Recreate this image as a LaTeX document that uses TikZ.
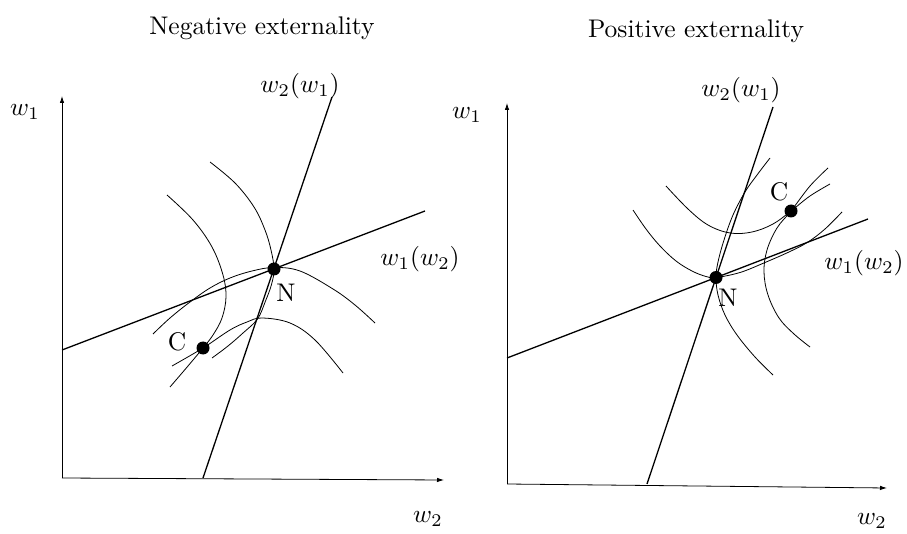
\documentclass[tikz,border=0pt]{standalone}
\usetikzlibrary{arrows.meta}
\newcommand{\mylab}[1]{\scalebox{2.55}{#1}}
\begin{document}
\begin{tikzpicture}[x=1pt,y=-1pt,
  axis/.style={line width=0.8pt,-{Latex[length=7pt,width=4.5pt]}},
  react/.style={line width=1.3pt},
  indiff/.style={line width=0.8pt,smooth,tension=0.6},
  dot/.style={circle,fill=black,inner sep=0pt,minimum size=13pt},
  lab/.style={font=\fontsize{10}{12}\selectfont,inner sep=0pt},
]
\useasboundingbox (0,0) rectangle (907,534);

% ---------------- Left panel: negative externality ----------------
\coordinate (OL) at (62,478);
\coordinate (YL) at (62,96);
\coordinate (XL) at (444,480);
\draw[axis] (OL) -- (YL);
\draw[axis] (OL) -- (XL);

\coordinate (AL1) at (62,350);
\coordinate (AL2) at (425,211);
\coordinate (BL1) at (203,478);
\coordinate (BL2) at (332,97);
\draw[react] (AL1) -- (AL2);
\draw[react] (BL1) -- (BL2);

% indifference curves
\draw[indiff] plot coordinates {(153,334) (170,318) (190,302) (210,288) (230,278) (252,271) (274,267.5) (300,271) (333,289) (355,305) (375,323)};
\draw[indiff] plot coordinates {(172,366) (203,348) (230,330) (247,322) (262,318) (290,323) (315,340) (343,373)};
\draw[indiff] plot coordinates {(210,162) (235,183) (254,207) (265,230) (271,250) (274,269) (271.5,284.5) (265.5,301) (257.5,319) (243,333) (228,346) (212,358)};
\draw[indiff] plot coordinates {(167,195) (193,220) (212,247) (223,275) (226,297) (222,318) (213,335) (203,348) (188,366) (170,387)};

\node[dot] (NL) at (274,269) {};
\node[dot] (CL) at (203,348) {};

\node[lab] (tL) at (262,28) {\mylab{Negative externality}};
\node[lab] (w1L) at (25,112) {\mylab{$w_1$}};
\node[lab] (w2L) at (428,519) {\mylab{$w_2$}};
\node[lab] (r2L) at (300,86) {\mylab{$w_2(w_1)$}};
\node[lab] (r1L) at (420,259) {\mylab{$w_1(w_2)$}};
\node[lab] (nL) at (286,293) {\mylab{N}};
\node[lab] (cL) at (177,342) {\mylab{C}};

% ---------------- Right panel: positive externality ----------------
\coordinate (OR) at (507,484);
\coordinate (YR) at (507,103);
\coordinate (XR) at (887,488);
\draw[axis] (OR) -- (YR);
\draw[axis] (OR) -- (XR);

\coordinate (AR1) at (507,358);
\coordinate (AR2) at (868,219);
\coordinate (BR1) at (647,484);
\coordinate (BR2) at (773,107);
\draw[react] (AR1) -- (AR2);
\draw[react] (BR1) -- (BR2);

\draw[indiff] plot coordinates {(770,158) (757,175) (745,192) (733,215) (724,240) (718,262) (716,277.5) (718,295) (725,315) (737,335) (755,357) (773,375)};
\draw[indiff] plot coordinates {(666,186) (688,209) (708,225) (730,233) (752,232) (773,224) (791,211) (810,196) (830,184)};
\draw[indiff] plot coordinates {(828,168) (810,186) (791,211) (777,228) (767,250) (764,272) (768,295) (779,318) (794,334) (810,347)};
\draw[indiff] plot coordinates {(633,210) (646,229) (660,246) (676,261) (692,271) (706,276.5) (716,277.5) (740,272.5) (765,262.5) (790,251.5) (808,242) (825,229) (842,212)};

\node[dot] (NR) at (716,277.5) {};
\node[dot] (CR) at (791,211) {};

\node[lab] (tR) at (696,31) {\mylab{Positive externality}};
\node[lab] (w1R) at (467,115) {\mylab{$w_1$}};
\node[lab] (w2R) at (872,521) {\mylab{$w_2$}};
\node[lab] (r2R) at (741,90) {\mylab{$w_2(w_1)$}};
\node[lab] (r1R) at (864,263) {\mylab{$w_1(w_2)$}};
\node[lab] (nR) at (728,298) {\mylab{N}};
\node[lab] (cR) at (779,192) {\mylab{C}};
\end{tikzpicture}
\end{document}
